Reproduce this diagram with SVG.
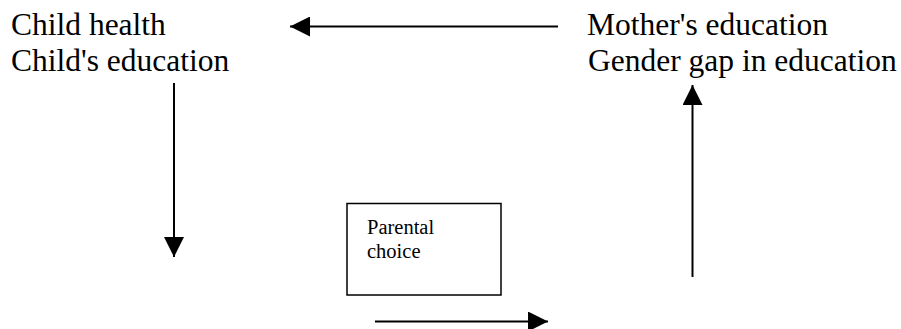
<svg xmlns="http://www.w3.org/2000/svg" width="901" height="329" viewBox="0 0 901 329">
<style>
.t{font-family:"Liberation Serif","Times New Roman",serif;font-size:31.5px;fill:#000}
.s{font-family:"Liberation Serif","Times New Roman",serif;font-size:20.5px;fill:#000}
.ln{stroke:#000;stroke-width:2;fill:none}
</style>
<defs>
<marker id="ah" viewBox="0 0 20 20" refX="20" refY="10" markerWidth="20" markerHeight="20" markerUnits="userSpaceOnUse" orient="auto">
<path d="M0,0 L20,10 L0,20 Z" fill="#000"/>
</marker>
</defs>
<g id="outcomes">
<text class="t" x="11" y="35">Child health</text>
<text class="t" x="11" y="71">Child's education</text>
</g>
<g id="mother">
<text class="t" x="587" y="35">Mother's education</text>
<text class="t" x="588" y="71">Gender gap in education</text>
</g>
<g id="parental">
<rect x="347" y="203.5" width="154" height="91.5" fill="#fff" stroke="#000" stroke-width="1.5"/>
<text class="s" x="367" y="234">Parental</text>
<text class="s" x="367" y="258">choice</text>
</g>
<g id="connectors">
<line class="ln" x1="558" y1="26.5" x2="290" y2="26.5" marker-end="url(#ah)"/>
<line class="ln" x1="174" y1="83" x2="174" y2="257" marker-end="url(#ah)"/>
<line class="ln" x1="692.5" y1="277" x2="692.5" y2="85" marker-end="url(#ah)"/>
<line class="ln" x1="375" y1="321.5" x2="548" y2="321.5" marker-end="url(#ah)"/>
</g>
</svg>
